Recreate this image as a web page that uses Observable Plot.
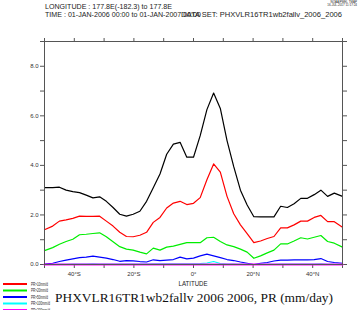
<!DOCTYPE html>
<html><head><meta charset="utf-8">
<script src="https://cdn.jsdelivr.net/npm/d3@7"></script>
<script src="https://cdn.jsdelivr.net/npm/@observablehq/plot@0.6"></script>
<style>body{margin:0;background:#fff} #c{width:360px;height:310px;overflow:hidden;position:relative}</style>
</head><body><div id="c"></div>
<script>
// Latitude grid (degrees, negative = south)
const lat = [-50,-47.25,-45,-42.75,-40.5,-38.25,-36,-33.75,-31.5,-29.25,-27,-24.75,-22.5,-20.25,-18,-15.75,-13.5,-11.25,-9,-6.75,-4.5,-2.25,0,2.25,4.5,6.75,9,11.25,13.5,15.75,18,20.25,22.5,24.75,27,29.25,31.5,33.75,36,38.25,40.5,42.75,45,47.25,50];
// Mean PR (black)
const prMean = [3.1,3.1,3.12,3.0,2.94,2.9,2.8,2.69,2.73,2.55,2.3,2.03,1.95,2.03,2.15,2.55,3.1,3.65,4.45,4.86,4.93,4.33,4.33,5.2,6.25,6.92,6.3,5.0,3.95,3.0,2.4,1.93,1.92,1.92,1.92,2.35,2.3,2.45,2.67,2.67,2.82,3.0,2.75,2.88,2.75];
// PR>10mm/d (red)
const pr10 = [1.4,1.55,1.75,1.8,1.86,1.95,1.94,1.94,1.95,1.75,1.55,1.3,1.13,1.12,1.18,1.3,1.7,1.9,2.28,2.48,2.55,2.42,2.47,2.7,3.42,4.06,3.73,2.75,2.05,1.6,1.25,0.88,0.95,1.05,1.13,1.48,1.48,1.6,1.75,1.75,1.9,1.98,1.73,1.73,1.5];
// PR>20mm/d (green)
const pr20 = [0.56,0.68,0.82,0.93,1.02,1.2,1.22,1.25,1.28,1.12,0.92,0.72,0.62,0.58,0.5,0.43,0.66,0.58,0.7,0.74,0.81,0.88,0.88,0.88,1.08,1.1,0.93,0.79,0.72,0.62,0.5,0.25,0.35,0.47,0.58,0.83,0.83,0.95,1.08,1.03,1.1,1.17,0.93,0.86,0.7];
// PR>50mm/d (blue)
const pr50 = [0.02,0.05,0.12,0.18,0.23,0.28,0.3,0.34,0.3,0.26,0.2,0.13,0.16,0.15,0.12,0.1,0.19,0.16,0.18,0.2,0.3,0.23,0.26,0.35,0.42,0.35,0.28,0.2,0.16,0.1,0.05,0.0,0.05,0.08,0.14,0.18,0.18,0.19,0.19,0.19,0.2,0.24,0.12,0.08,0.05];
// PR>100mm/d (cyan)
const pr100 = [0.0,0.0,0.01,0.01,0.02,0.02,0.02,0.03,0.02,0.02,0.02,0.02,0.02,0.02,0.02,0.02,0.03,0.03,0.03,0.03,0.03,0.03,0.03,0.04,0.06,0.12,0.04,0.02,0.02,0.01,0.01,0.0,0.01,0.01,0.01,0.02,0.02,0.02,0.02,0.02,0.02,0.03,0.01,0.01,0.0];
// highest threshold (magenta)
const pr200 = lat.map(() => 0);

const seriesNames = ["PR","PR>10mm/d","PR>20mm/d","PR>50mm/d","PR>100mm/d","PR>200mm/d"];
const seriesColors = ["#000000","#ff0000","#00ee00","#0000ff","#00ffff","#ff00ff"];
const seriesValues = [prMean, pr10, pr20, pr50, pr100, pr200];
const seriesWidths = [1.2,1.2,1.2,1.2,1.2,2];

const yTicks = [0,1,2,3,4,5,6,7,8,9];
const xTicks = [-50,-40,-30,-20,-10,0,10,20,30,40,50];
const xTickLabels = {"-40":"40°S","-20":"20°S","0":"0°","20":"20°N","40":"40°N"};

const rows = seriesNames.flatMap((name, k) => lat.map((l, i) => ({lat: l, v: seriesValues[k][i], key: name})));

const chart = Plot.plot({
  width: 360, height: 310,
  marginLeft: 44, marginRight: 18, marginTop: 41, marginBottom: 46,
  x: {domain: [-50, 50], label: null},
  y: {domain: [0, 9], label: null},
  style: {fontFamily: "Liberation Sans, Arial, sans-serif", fontSize: "6px", background: "#fff", color: "#333"},
  marks: [
    Plot.axisY(yTicks, {anchor: "left", tickSize: 4, tickPadding: 2, stroke: "#555", fill: "#333",
      tickFormat: d => (d % 2 === 0 && d < 9) ? d.toFixed(1) : ""}),
    Plot.axisY(yTicks, {anchor: "right", tickSize: 4, stroke: "#555", tickFormat: () => ""}),
    Plot.axisX(xTicks, {anchor: "bottom", tickSize: 4, tickPadding: 3, stroke: "#555", fill: "#333",
      tickFormat: d => xTickLabels[d] || ""}),
    Plot.axisX(xTicks, {anchor: "top", tickSize: 4, stroke: "#555", tickFormat: () => ""}),
    ...seriesNames.map((name, k) => Plot.line(rows.filter(r => r.key === name),
      {x: "lat", y: "v", stroke: seriesColors[k], strokeWidth: seriesWidths[k]})),
    Plot.frame({stroke: "#555"})
  ]
});
document.getElementById("c").appendChild(chart);

const svg = d3.select(chart);
function txt(s, x, y, size, opts = {}) {
  const t = svg.append("text").attr("x", x).attr("y", y)
    .attr("font-size", size + "px")
    .attr("font-family", opts.family || "Liberation Sans, Arial, sans-serif")
    .attr("fill", opts.fill || "#222")
    .attr("text-anchor", opts.anchor || "start")
    .text(s);
  if (opts.len) t.attr("textLength", opts.len).attr("lengthAdjust", "spacingAndGlyphs");
  return t;
}
// header
txt("LONGITUDE : 177.8E(-182.3) to 177.8E", 45, 9, 7, {len: 127});
txt("TIME : 01-JAN-2006 00:00 to 01-JAN-2007 00:00", 45, 17.3, 7, {len: 156});
txt("DATA SET: PHXVLR16TR1wb2fallv_2006_2006", 181, 16.8, 7, {len: 161});
txt("NOAA/PMEL TMAP", 357, 3, 3, {anchor: "end"});
txt("16-JUL-2017 11:17:24", 357, 6, 3, {anchor: "end"});
// x axis title
txt("LATITUDE", 193, 286, 6.5, {anchor: "middle", len: 29});
// legend
const legendNames = seriesNames.slice(1);
const legendColors = seriesColors.slice(1);
legendNames.forEach((n, i) => {
  const y = 284 + i * 6.5;
  svg.append("line").attr("x1", 3).attr("x2", 27).attr("y1", y).attr("y2", y)
    .attr("stroke", legendColors[i]).attr("stroke-width", 2);
  txt(n, 31, y + 1.7, 4.5, {len: 17 + (n.length - 9) * 2});
});
// title
txt("PHXVLR16TR1wb2fallv 2006 2006, PR (mm/day)", 55, 302, 13.5,
  {family: "Liberation Serif, Times New Roman, serif", fill: "#111", len: 278});
</script>
</body></html>
